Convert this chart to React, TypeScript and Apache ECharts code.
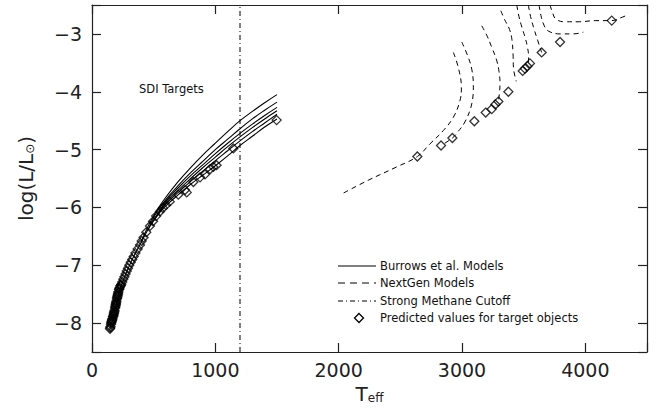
import React, { useEffect, useRef } from "react";
import * as echarts from "echarts";

// Burrows et al. isochrones, [Teff (K), log(L/Lsun)]
const burrows1 = [[400, -6.58], [450, -6.35], [520, -6.07], [600, -5.82], [700, -5.55], [800, -5.31], [900, -5.09], [1000, -4.89], [1100, -4.69], [1200, -4.5], [1300, -4.34], [1400, -4.19], [1500, -4.05]];
const burrows2 = [[460, -6.36], [520, -6.1], [600, -5.86], [700, -5.62], [800, -5.4], [900, -5.2], [1000, -5.0], [1100, -4.82], [1200, -4.64], [1300, -4.47], [1400, -4.32], [1500, -4.18]];
const burrows3 = [[480, -6.3], [520, -6.15], [600, -5.89], [700, -5.66], [800, -5.45], [900, -5.26], [1000, -5.07], [1100, -4.89], [1200, -4.72], [1300, -4.56], [1400, -4.41], [1500, -4.27]];
const burrows4 = [[500, -6.23], [600, -5.92], [700, -5.7], [800, -5.5], [900, -5.31], [1000, -5.13], [1100, -4.95], [1200, -4.78], [1300, -4.62], [1400, -4.47], [1500, -4.33]];
const burrows5 = [[520, -6.17], [600, -5.94], [700, -5.74], [800, -5.55], [900, -5.37], [1000, -5.19], [1100, -5.02], [1200, -4.85], [1300, -4.69], [1400, -4.54], [1500, -4.39]];
const burrows6 = [[143, -8.12], [158, -8.0], [175, -7.88], [190, -7.75], [205, -7.6], [220, -7.46], [240, -7.34], [265, -7.2], [300, -7.02], [345, -6.82], [400, -6.6], [450, -6.4], [500, -6.23], [560, -6.06], [620, -5.93], [700, -5.78], [800, -5.6], [900, -5.44], [1000, -5.28], [1100, -5.11], [1200, -4.93], [1300, -4.77], [1400, -4.61], [1500, -4.47]];
const burrowsModels = [burrows1, burrows2, burrows3, burrows4, burrows5, burrows6];

// NextGen evolutionary tracks
const nextGen1 = [[2930, -3.32], [2970, -3.58], [2995, -3.92], [2984, -4.15], [2930, -4.44], [2849, -4.67], [2741, -4.9], [2638, -5.12], [2470, -5.3], [2240, -5.53], [2040, -5.75]];
const nextGen2 = [[2998, -3.14], [3050, -3.4], [3080, -3.62], [3092, -3.89], [3079, -4.21], [3024, -4.52], [2960, -4.71], [2922, -4.8], [2830, -4.93]];
const nextGen3 = [[3160, -2.86], [3200, -3.02], [3241, -3.23], [3280, -3.45], [3300, -3.65], [3308, -3.86], [3302, -4.05], [3295, -4.17]];
const nextGen4 = [[3315, -2.6], [3345, -2.75], [3385, -2.92], [3405, -3.1], [3414, -3.35], [3418, -3.6], [3440, -3.82]];
const nextGen5 = [[3444, -2.5], [3462, -2.7], [3485, -2.88], [3510, -3.05], [3530, -3.22], [3540, -3.4], [3538, -3.52]];
const nextGen6 = [[3538, -2.5], [3556, -2.7], [3582, -2.9], [3615, -3.12], [3646, -3.32]];
const nextGen7 = [[3625, -2.5], [3640, -2.68], [3665, -2.85], [3700, -2.95], [3795, -3.0], [3900, -3.0], [3984, -2.97]];
const nextGen8 = [[3714, -2.5], [3732, -2.62], [3760, -2.74], [3830, -2.79], [3950, -2.79], [4080, -2.77], [4214, -2.77], [4300, -2.71], [4335, -2.68]];
const nextGenModels = [nextGen1, nextGen2, nextGen3, nextGen4, nextGen5, nextGen6, nextGen7, nextGen8];

// Strong methane absorption sets in below this temperature
const methaneCutoff = [[1200, -8.5], [1200, -2.5]];

// Predicted Teff / luminosity of the SDI targets
const targetsCool = [
  [146, -8.1], [148, -8.08], [150, -8.06], [154, -8.02], [156, -8.0], [158, -7.98], [160, -7.97],
  [162, -7.95], [164, -7.94], [166, -7.92], [170, -7.89], [172, -7.88], [175, -7.86], [177, -7.84],
  [179, -7.82], [181, -7.8], [183, -7.78], [187, -7.74], [189, -7.72], [191, -7.7], [193, -7.68],
  [194, -7.66], [196, -7.64], [198, -7.62], [202, -7.58], [204, -7.56], [206, -7.54], [208, -7.52],
  [210, -7.5], [212, -7.48], [214, -7.46], [219, -7.42], [221, -7.41], [224, -7.39], [230, -7.36],
  [233, -7.35], [237, -7.33], [245, -7.29], [254, -7.24], [263, -7.2], [272, -7.15], [282, -7.1],
  [292, -7.05], [302, -7.0], [314, -6.95], [326, -6.9], [338, -6.85], [352, -6.79], [370, -6.72],
  [389, -6.65], [403, -6.58], [418, -6.52], [440, -6.43], [470, -6.32], [495, -6.24], [520, -6.15],
  [551, -6.07], [575, -6.01], [600, -5.96], [630, -5.9], [700, -5.78], [754, -5.7], [768, -5.74],
  [822, -5.56], [876, -5.48], [916, -5.43], [957, -5.34], [984, -5.3], [1010, -5.27], [1146, -4.98],
  [1497, -4.49],
];
const targetsWarm = [
  [2638, -5.12], [2830, -4.93], [2922, -4.8], [3100, -4.51], [3192, -4.36], [3241, -4.3], [3270, -4.22],
  [3295, -4.17], [3376, -4.0], [3492, -3.64], [3510, -3.6], [3530, -3.56], [3551, -3.51], [3646, -3.32],
  [3795, -3.14], [4214, -2.77],
];

const xTickValues = [0, 1000, 2000, 3000, 4000];
const yTickValues = [-8, -7, -6, -5, -4, -3];
const legendLabels = ["Burrows et al. Models", "NextGen Models", "Strong Methane Cutoff", "Predicted values for target objects"];
const annotation = "SDI Targets";

const FONT = "DejaVu Sans";
const INK = "#111";
const AXIS = "#222";

export default function App() {
  const ref = useRef<HTMLDivElement>(null);

  useEffect(() => {
    if (!ref.current) return;
    const chart = echarts.init(ref.current, undefined, { renderer: "svg" });

    const axisLine = { show: true, onZero: false, lineStyle: { color: AXIS, width: 1.2 } };
    const axisTick = { show: true, inside: true, length: 9, lineStyle: { color: AXIS, width: 1.2 } };

    const fmtX = (v: number) => (xTickValues.includes(v) ? String(v) : "");
    const fmtY = (v: number) => (yTickValues.includes(v) ? "\u2212" + String(Math.abs(v)) : "");

    const series: any[] = [];
    burrowsModels.forEach((d) =>
      series.push({
        type: "line", data: d, smooth: 0.4, symbol: "none", silent: true,
        lineStyle: { color: "#000", width: 1.1 },
      })
    );
    nextGenModels.forEach((d) =>
      series.push({
        type: "line", data: d, smooth: 0.4, symbol: "none", silent: true,
        lineStyle: { color: "#000", width: 1, type: [5, 4] },
      })
    );
    series.push({
      type: "line", data: methaneCutoff, symbol: "none", silent: true,
      lineStyle: { color: "#000", width: 1, type: [5, 3, 1, 3] },
    });
    series.push({
      type: "scatter", data: targetsCool.concat(targetsWarm), symbol: "diamond", symbolSize: 9, silent: true,
      itemStyle: { color: "rgba(0,0,0,0)", borderColor: "#000", borderWidth: 1.3 },
    });

    const lx1 = 338, lx2 = 376, tx = 380;
    const ly = [266, 283, 301, 318];
    const graphic: any[] = [
      { type: "line", shape: { x1: lx1, y1: ly[0], x2: lx2, y2: ly[0] }, style: { stroke: "#000", lineWidth: 1 } },
      { type: "line", shape: { x1: lx1, y1: ly[1], x2: lx2, y2: ly[1] }, style: { stroke: "#000", lineWidth: 1, lineDash: [7, 5] } },
      { type: "line", shape: { x1: lx1, y1: ly[2], x2: lx2, y2: ly[2] }, style: { stroke: "#000", lineWidth: 1, lineDash: [5, 3, 1, 3] } },
      { type: "polygon", shape: { points: [[359, ly[3] - 4.5], [363.5, ly[3]], [359, ly[3] + 4.5], [354.5, ly[3]]] }, style: { fill: "none", stroke: "#000", lineWidth: 1.3 } },
      ...legendLabels.map((t, i) => ({
        type: "text", x: tx, y: ly[i],
        style: { text: t, fontFamily: FONT, fontSize: 11.5, fill: INK, align: "left", verticalAlign: "middle" },
      })),
      {
        type: "text", x: 139, y: 89,
        style: { text: annotation, fontFamily: FONT, fontSize: 11.5, fill: INK, align: "left", verticalAlign: "middle" },
      },
    ];

    chart.setOption({
      animation: false,
      backgroundColor: "#fff",
      textStyle: { fontFamily: FONT },
      grid: { left: 92, right: 16, top: 5, bottom: 60, containLabel: false },
      xAxis: [
        {
          type: "value", min: 0, max: 4500, interval: 1000, position: "bottom",
          axisLine, axisTick, splitLine: { show: false },
          axisLabel: { formatter: fmtX, fontFamily: FONT, fontSize: 19, color: AXIS, margin: 8 },
          name: "T{sub|eff}", nameLocation: "middle", nameGap: 31,
          nameTextStyle: {
            fontFamily: FONT, fontSize: 20, color: AXIS,
            rich: { sub: { fontFamily: FONT, fontSize: 12, color: AXIS, verticalAlign: "bottom", padding: [9, 0, 0, 0] } },
          },
        },
        {
          type: "value", min: 0, max: 4500, interval: 1000, position: "top",
          axisLine, axisTick, splitLine: { show: false }, axisLabel: { show: false },
        },
      ],
      yAxis: [
        {
          type: "value", min: -8.5, max: -2.5, splitNumber: 6, position: "left",
          axisLine, axisTick, splitLine: { show: false },
          axisLabel: { formatter: fmtY, fontFamily: FONT, fontSize: 19, color: AXIS, margin: 10 },
          name: "log(L/L{sub|\u2299})", nameLocation: "middle", nameGap: 56, nameRotate: 90,
          nameTextStyle: {
            fontFamily: FONT, fontSize: 20, color: AXIS,
            rich: { sub: { fontFamily: FONT, fontSize: 12, color: AXIS, verticalAlign: "bottom", padding: [9, 0, 0, 0] } },
          },
        },
        {
          type: "value", min: -8.5, max: -2.5, splitNumber: 6, position: "right",
          axisLine, axisTick, splitLine: { show: false }, axisLabel: { show: false },
        },
      ],
      series,
      graphic,
    });

    return () => chart.dispose();
  }, []);

  return (
    <div
      ref={ref}
      style={{ position: "absolute", left: 0, top: 0, width: 663, height: 412, background: "#fff" }}
    />
  );
}
